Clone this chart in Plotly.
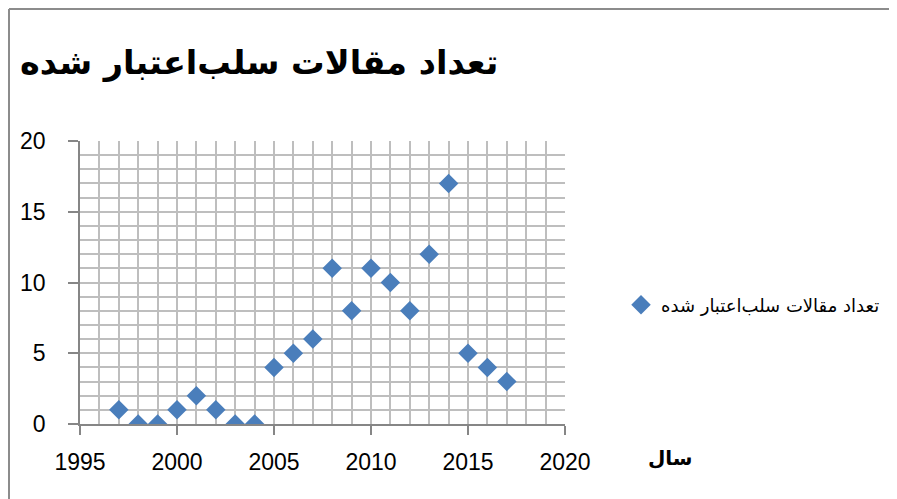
import plotly.graph_objects as go

years = [1997, 1998, 1999, 2000, 2001, 2002, 2003, 2004, 2005, 2006, 2007,
         2008, 2009, 2010, 2011, 2012, 2013, 2014, 2015, 2016, 2017]
counts = [1, 0, 0, 1, 2, 1, 0, 0, 4, 5, 6, 11, 8, 11, 10, 8, 12, 17, 5, 4, 3]
series_name = "تعداد مقالات سلب‌اعتبار شده"
title_text = "تعداد مقالات سلب‌اعتبار شده"
x_title = "سال"

# page body has an 8px margin; work in page coordinates and shift
OFF = 8
W, H = 897 - OFF, 499 - OFF
L, R, T, B = 80 - OFF, 565 - OFF, 141 - OFF, 424 - OFF
pw, ph = R - L, B - T

def px(x):
    return (x - OFF - L) / pw

def py(y):
    return (B - (y - OFF)) / ph

tick_font = dict(family="Liberation Sans, Arial, sans-serif", size=23, color="#000000")
grid_col = "#BEBEBE"
axis_col = "#868686"

fig = go.Figure()
fig.add_trace(go.Scatter(
    x=years, y=counts, mode="markers", name=series_name,
    marker=dict(symbol="diamond", size=15, color="#4A7EBB", line=dict(width=0)),
    showlegend=True,
))

fig.update_layout(
    width=W, height=H,
    margin=dict(l=L, r=W - R, t=T, b=H - B, autoexpand=False),
    paper_bgcolor="white", plot_bgcolor="white",
    title=dict(text="<b>" + title_text + "</b>", xref="container", yref="container",
               x=(20 - OFF) / W, xanchor="left", y=1 - (62 - OFF) / H, yanchor="middle",
               font=dict(family="DejaVu Sans, sans-serif", size=33.5, color="#000000")),
    xaxis=dict(range=[1995, 2020], dtick=5, tick0=1995, showgrid=True,
               gridcolor=grid_col, gridwidth=1.5,
               minor=dict(dtick=1, showgrid=True, gridcolor=grid_col, gridwidth=1.5, ticks=""),
               showline=True, linecolor=axis_col, linewidth=1.5,
               ticks="outside", ticklen=9, tickcolor=axis_col, tickwidth=1.5,
               tickfont=tick_font, ticklabelstandoff=8, zeroline=False),
    yaxis=dict(range=[0, 20], dtick=5, tick0=0, showgrid=True,
               gridcolor=grid_col, gridwidth=1.5,
               minor=dict(dtick=1, showgrid=True, gridcolor=grid_col, gridwidth=1.5, ticks=""),
               showline=True, linecolor=axis_col, linewidth=1.5,
               ticks="outside", ticklen=10, tickcolor=axis_col, tickwidth=1.5,
               tickfont=tick_font, ticklabelstandoff=18, zeroline=False),
    legend=dict(x=px(621), xanchor="left", y=py(305), yanchor="middle",
                font=dict(family="DejaVu Sans, sans-serif", size=18, color="#000000"),
                bgcolor="rgba(0,0,0,0)", itemwidth=30),
    annotations=[dict(text="<b>" + x_title + "</b>", xref="paper", yref="paper",
                      x=px(670), y=py(458), xanchor="center", yanchor="middle",
                      showarrow=False,
                      font=dict(family="DejaVu Sans, sans-serif", size=20, color="#000000"))],
    shapes=[
        dict(type="line", xref="paper", yref="paper", x0=px(9), x1=px(9),
             y0=py(9), y1=py(499), line=dict(color="#8C8C8C", width=2)),
        dict(type="line", xref="paper", yref="paper", x0=px(9), x1=px(897),
             y0=py(9), y1=py(9), line=dict(color="#8C8C8C", width=2)),
    ],
)

fig.write_html("out.html")
